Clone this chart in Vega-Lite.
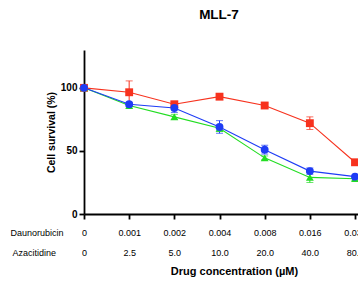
{
  "$schema": "https://vega.github.io/schema/vega-lite/v6.json",
  "autosize": {"type": "none"},
  "padding": {"left": 84, "top": 50, "right": 0, "bottom": 72},
  "width": 274,
  "height": 164,
  "background": "white",
  "title": {"text": "MLL-7", "font": "Liberation Sans", "fontSize": 13.5, "fontWeight": "bold", "anchor": "middle", "baseline": "alphabetic", "offset": 18, "dx": -2, "color": "black"},
  "config": {"view": {"stroke": null}},
  "datasets": {
    "survival": [
      {"series": "Daunorubicin", "i": 0, "mean": 100, "err": 0},
      {"series": "Daunorubicin", "i": 1, "mean": 96.5, "err": 9},
      {"series": "Daunorubicin", "i": 2, "mean": 87, "err": 2},
      {"series": "Daunorubicin", "i": 3, "mean": 93, "err": 1.5},
      {"series": "Daunorubicin", "i": 4, "mean": 86, "err": 2},
      {"series": "Daunorubicin", "i": 5, "mean": 72, "err": 5},
      {"series": "Daunorubicin", "i": 6, "mean": 41, "err": 2},
      {"series": "Azacitidine", "i": 0, "mean": 100, "err": 0},
      {"series": "Azacitidine", "i": 1, "mean": 86, "err": 1},
      {"series": "Azacitidine", "i": 2, "mean": 77, "err": 2},
      {"series": "Azacitidine", "i": 3, "mean": 68, "err": 2.5},
      {"series": "Azacitidine", "i": 4, "mean": 44.5, "err": 1.5},
      {"series": "Azacitidine", "i": 5, "mean": 29, "err": 4},
      {"series": "Azacitidine", "i": 6, "mean": 28, "err": 1.5},
      {"series": "Combination", "i": 0, "mean": 100, "err": 0},
      {"series": "Combination", "i": 1, "mean": 87, "err": 1.5},
      {"series": "Combination", "i": 2, "mean": 84, "err": 3.5},
      {"series": "Combination", "i": 3, "mean": 69, "err": 5},
      {"series": "Combination", "i": 4, "mean": 51, "err": 3.5},
      {"series": "Combination", "i": 5, "mean": 34, "err": 2.5},
      {"series": "Combination", "i": 6, "mean": 29.6, "err": 1}
    ],
    "rows": [{"label": "Daunorubicin"}, {"label": "Azacitidine"}]
  },
  "layer": [
    {
      "data": {"name": "survival"},
      "encoding": {
        "x": {"field": "i", "type": "quantitative", "scale": {"domain": [0, 6.066], "nice": false, "zero": false},
          "axis": {"values": [0, 1, 2, 3, 4, 5, 6], "grid": false, "domainColor": "black", "domainWidth": 1.8, "tickColor": "black", "tickWidth": 1.8, "tickSize": 5,
            "labelExpr": "[['0','0.001','0.002','0.004','0.008','0.016','0.032'][datum.value], ['0','2.5','5.0','10.0','20.0','40.0','80.0'][datum.value]]",
            "labelFont": "Liberation Sans", "labelFontSize": 9, "labelColor": "black", "labelBaseline": "top", "labelPadding": 9, "labelLineHeight": 20, "labelOverlap": false, "labelFlush": false, "labelBound": false,
            "title": "Drug concentration (µM)", "titleFont": "Liberation Sans", "titleFontSize": 11, "titleFontWeight": "bold", "titleColor": "black", "titleX": 150, "titleY": 60, "titleBaseline": "alphabetic", "titleAnchor": "middle"}},
        "y": {"field": "mean", "type": "quantitative", "scale": {"domain": [0, 130], "nice": false},
          "axis": {"values": [0, 50, 100], "grid": false, "domainColor": "black", "domainWidth": 1.8, "tickColor": "black", "tickWidth": 1.8, "tickSize": 5,
            "labelFont": "Liberation Sans", "labelFontSize": 10, "labelFontWeight": "bold", "labelColor": "black", "labelPadding": 2,
            "title": "Cell survival (%)", "titleFont": "Liberation Sans", "titleFontSize": 10.5, "titleFontWeight": "bold", "titleColor": "black", "titlePadding": 4}},
        "color": {"field": "series", "type": "nominal", "scale": {"domain": ["Daunorubicin", "Azacitidine", "Combination"], "range": ["#F7321E", "#22DD22", "#1E3CF5"]}, "legend": null}
      },
      "layer": [
        {"mark": {"type": "line", "strokeWidth": 1.1}},
        {"mark": {"type": "errorbar", "ticks": {"size": 7}, "thickness": 1},
          "encoding": {"yError": {"field": "err"}}},
        {"mark": {"type": "point", "filled": true, "opacity": 1, "size": 62},
          "encoding": {"shape": {"field": "series", "type": "nominal", "scale": {"domain": ["Daunorubicin", "Azacitidine", "Combination"], "range": ["square", "triangle-up", "circle"]}, "legend": null}}}
      ]
    },
    {
      "data": {"name": "rows"},
      "transform": [{"filter": "datum.label == 'Daunorubicin'"}],
      "mark": {"type": "text", "font": "Liberation Sans", "fontSize": 9, "align": "center", "baseline": "alphabetic", "color": "black"},
      "encoding": {
        "x": {"datum": -1.04, "type": "quantitative"},
        "y": {"datum": -17.5, "type": "quantitative"},
        "text": {"field": "label", "type": "nominal"}
      }
    },
    {
      "data": {"name": "rows"},
      "transform": [{"filter": "datum.label == 'Azacitidine'"}],
      "mark": {"type": "text", "font": "Liberation Sans", "fontSize": 9, "align": "center", "baseline": "alphabetic", "color": "black"},
      "encoding": {
        "x": {"datum": -1.1, "type": "quantitative"},
        "y": {"datum": -33.3, "type": "quantitative"},
        "text": {"field": "label", "type": "nominal"}
      }
    }
  ]
}
